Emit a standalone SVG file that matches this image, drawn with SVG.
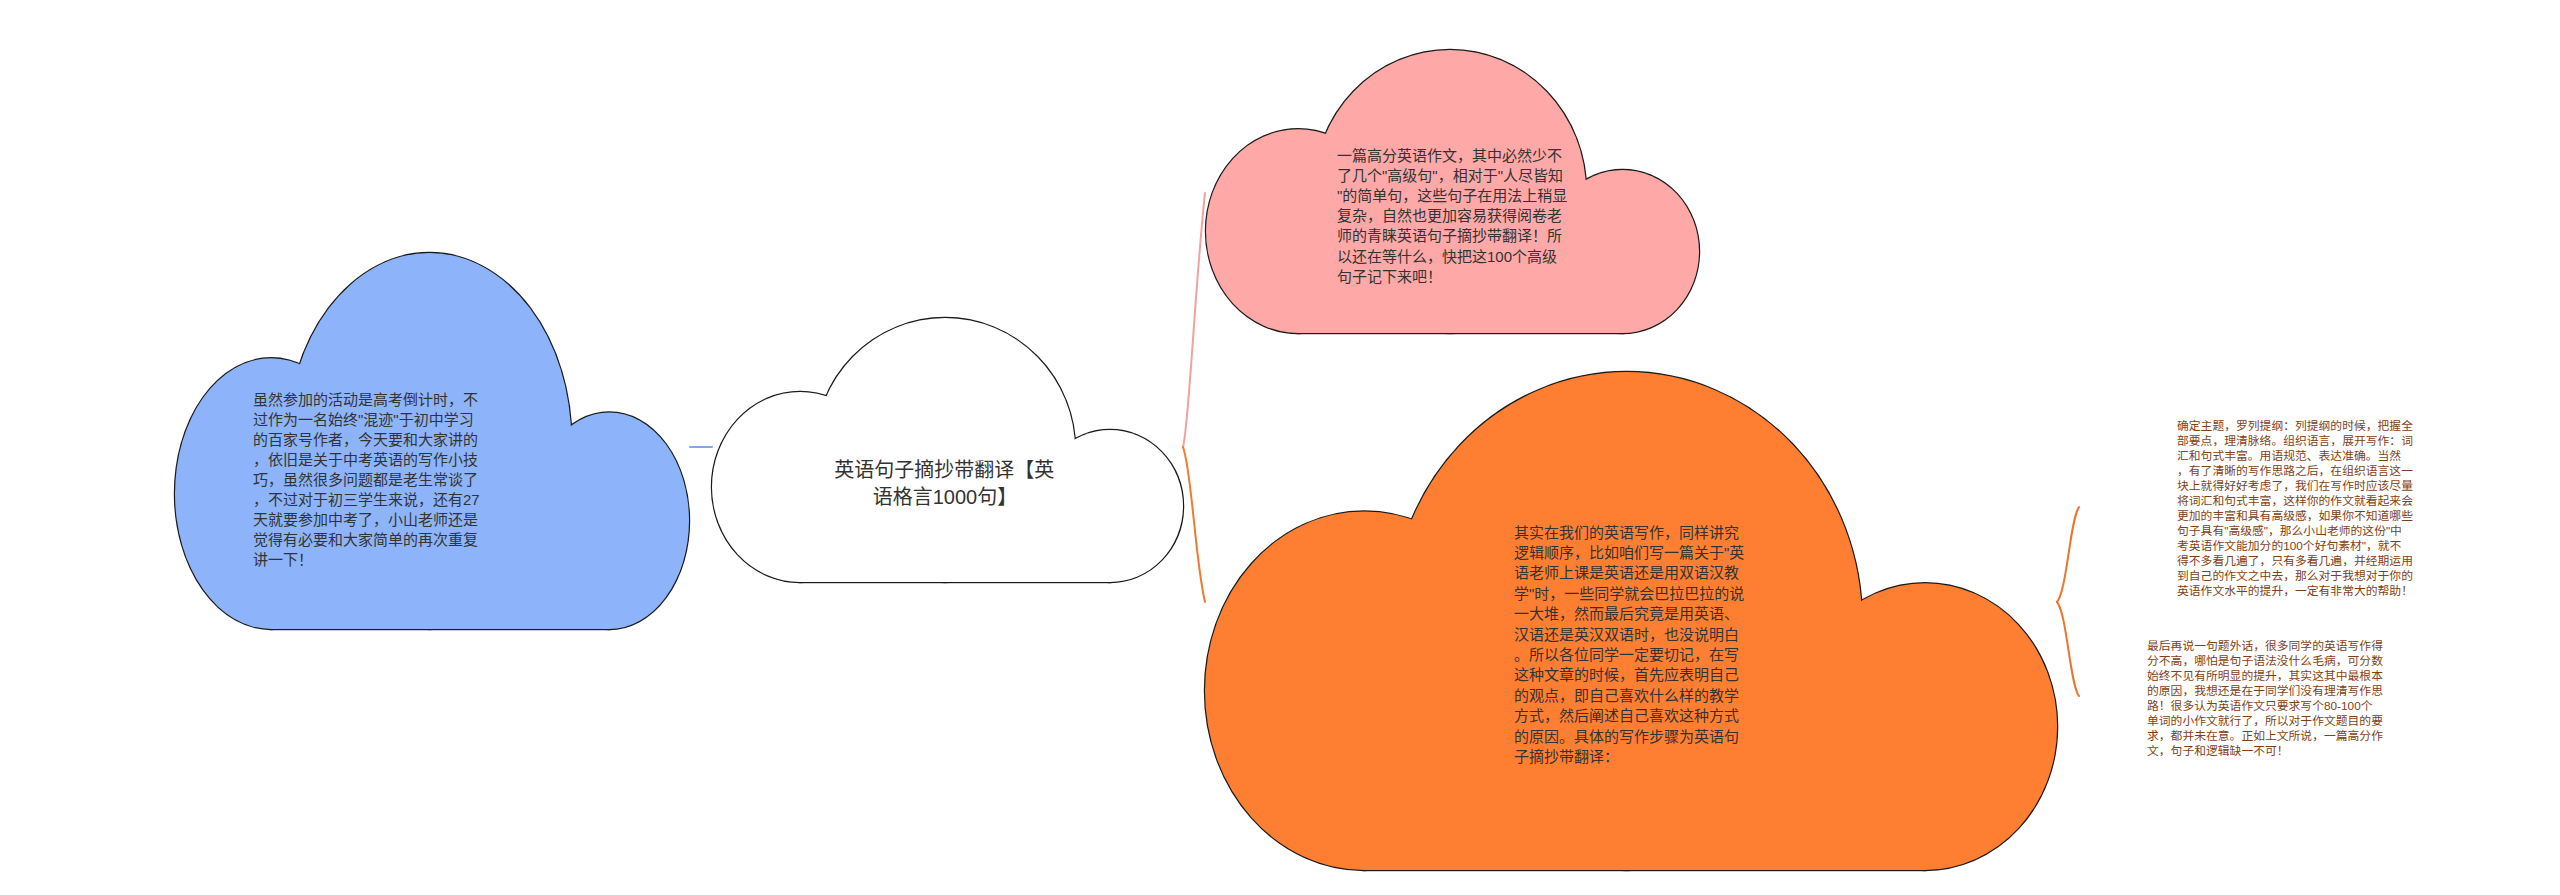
<svg xmlns="http://www.w3.org/2000/svg" width="2560" height="895" viewBox="0 0 2560 895">
<style>
  .ol { stroke: #1a1a1a; stroke-width: 2.4; }
  .fl { stroke: none; }
  .blue { fill: #8db4fa; }
  .pink { fill: #fea9a7; }
  .orange { fill: #ff7f32; }
  .white { fill: #ffffff; }
  .t { font-family: "Liberation Sans", "Noto Sans CJK SC", sans-serif; fill: #333333; }
  .t15 { font-size: 15px; }
  .t20 { font-size: 20px; }
  .ts { font-size: 11.8px; fill: #7f3f17; }
  .conn { fill: none; stroke-width: 2; stroke-linecap: round; }
</style>
<rect width="2560" height="895" fill="#ffffff"/>

<g id="connectors">
  <path class="conn" stroke="#82a8ec" d="M690,447 L712,447"/>
  <path class="conn" stroke="#f0a2a1" stroke-width="2.2" d="M1183,447 C1189,425 1195,285 1205,193"/>
  <path class="conn" stroke="#f07a2e" stroke-width="2.2" d="M1183,447 C1192,472 1195,560 1205,602"/>
  <path class="conn" stroke="#e8762e" stroke-width="1.6" d="M2057,602 C2067,590 2070,520 2079,507"/>
  <path class="conn" stroke="#e8762e" stroke-width="1.6" d="M2057,602 C2067,614 2070,685 2079,696"/>
</g>

<g id="node-blue">
  <g class="ol blue">
    <ellipse cx="271.1" cy="493.6" rx="96.1" ry="135.4"/>
    <ellipse cx="429.4" cy="441" rx="141.9" ry="188"/>
    <ellipse cx="609.3" cy="520.7" rx="79.7" ry="108.3"/>
    <rect x="271" y="479" width="338" height="150"/>
  </g>
  <g class="fl blue">
    <ellipse cx="271.1" cy="493.6" rx="96.1" ry="135.4"/>
    <ellipse cx="429.4" cy="441" rx="141.9" ry="188"/>
    <ellipse cx="609.3" cy="520.7" rx="79.7" ry="108.3"/>
    <rect x="271" y="479" width="338" height="150"/>
  </g>
  <text class="t t15" x="253" y="405">
    <tspan x="253" dy="0">虽然参加的活动是高考倒计时，不</tspan>
    <tspan x="253" dy="20">过作为一名始终"混迹"于初中学习</tspan>
    <tspan x="253" dy="20">的百家号作者，今天要和大家讲的</tspan>
    <tspan x="253" dy="20">，依旧是关于中考英语的写作小技</tspan>
    <tspan x="253" dy="20">巧，虽然很多问题都是老生常谈了</tspan>
    <tspan x="253" dy="20">，不过对于初三学生来说，还有27</tspan>
    <tspan x="253" dy="20">天就要参加中考了，小山老师还是</tspan>
    <tspan x="253" dy="20">觉得有必要和大家简单的再次重复</tspan>
    <tspan x="253" dy="20">讲一下！</tspan>
  </text>
</g>

<g id="node-center">
  <g class="ol white">
    <ellipse cx="800.1" cy="487" rx="88.1" ry="95"/>
    <ellipse cx="945.1" cy="450" rx="130" ry="132"/>
    <ellipse cx="1110" cy="506" rx="73" ry="76"/>
    <rect x="800" y="476" width="310" height="106"/>
  </g>
  <g class="fl white">
    <ellipse cx="800.1" cy="487" rx="88.1" ry="95"/>
    <ellipse cx="945.1" cy="450" rx="130" ry="132"/>
    <ellipse cx="1110" cy="506" rx="73" ry="76"/>
    <rect x="800" y="476" width="310" height="106"/>
  </g>
  <text class="t t20" text-anchor="middle">
    <tspan x="947" y="477">英语句子摘抄带翻译【英</tspan>
    <tspan x="945" y="504">语格言1000句】</tspan>
  </text>
</g>

<g id="node-pink">
  <g class="ol pink">
    <ellipse cx="1298.2" cy="231.1" rx="92.2" ry="101.9"/>
    <ellipse cx="1450" cy="191.5" rx="136.1" ry="141.5"/>
    <ellipse cx="1622.6" cy="251.5" rx="76.4" ry="81.5"/>
    <rect x="1298" y="220" width="325" height="113"/>
  </g>
  <g class="fl pink">
    <ellipse cx="1298.2" cy="231.1" rx="92.2" ry="101.9"/>
    <ellipse cx="1450" cy="191.5" rx="136.1" ry="141.5"/>
    <ellipse cx="1622.6" cy="251.5" rx="76.4" ry="81.5"/>
    <rect x="1298" y="220" width="325" height="113"/>
  </g>
  <text class="t t15" x="1337" y="160.5">
    <tspan x="1337" dy="0">一篇高分英语作文，其中必然少不</tspan>
    <tspan x="1337" dy="20.2">了几个"高级句"，相对于"人尽皆知</tspan>
    <tspan x="1337" dy="20.2">"的简单句，这些句子在用法上稍显</tspan>
    <tspan x="1337" dy="20.2">复杂，自然也更加容易获得阅卷老</tspan>
    <tspan x="1337" dy="20.2">师的青睐英语句子摘抄带翻译！所</tspan>
    <tspan x="1337" dy="20.2">以还在等什么，快把这100个高级</tspan>
    <tspan x="1337" dy="20.2">句子记下来吧！</tspan>
  </text>
</g>

<g id="node-orange">
  <g class="ol orange">
    <ellipse cx="1364.3" cy="690.7" rx="159.3" ry="179.3"/>
    <ellipse cx="1626.7" cy="621" rx="235.2" ry="249"/>
    <ellipse cx="1925" cy="726.6" rx="132.1" ry="143.4"/>
    <rect x="1364" y="671" width="561" height="199"/>
  </g>
  <g class="fl orange">
    <ellipse cx="1364.3" cy="690.7" rx="159.3" ry="179.3"/>
    <ellipse cx="1626.7" cy="621" rx="235.2" ry="249"/>
    <ellipse cx="1925" cy="726.6" rx="132.1" ry="143.4"/>
    <rect x="1364" y="671" width="561" height="199"/>
  </g>
  <text class="t t15" x="1514" y="537.5">
    <tspan x="1514" dy="0">其实在我们的英语写作，同样讲究</tspan>
    <tspan x="1514" dy="20.4">逻辑顺序，比如咱们写一篇关于"英</tspan>
    <tspan x="1514" dy="20.4">语老师上课是英语还是用双语汉教</tspan>
    <tspan x="1514" dy="20.4">学"时，一些同学就会巴拉巴拉的说</tspan>
    <tspan x="1514" dy="20.4">一大堆，然而最后究竟是用英语、</tspan>
    <tspan x="1514" dy="20.4">汉语还是英汉双语时，也没说明白</tspan>
    <tspan x="1514" dy="20.4">。所以各位同学一定要切记，在写</tspan>
    <tspan x="1514" dy="20.4">这种文章的时候，首先应表明自己</tspan>
    <tspan x="1514" dy="20.4">的观点，即自己喜欢什么样的教学</tspan>
    <tspan x="1514" dy="20.4">方式，然后阐述自己喜欢这种方式</tspan>
    <tspan x="1514" dy="20.4">的原因。具体的写作步骤为英语句</tspan>
    <tspan x="1514" dy="20.4">子摘抄带翻译：</tspan>
  </text>
</g>

<g id="node-right-1">
  <text class="t ts" x="2177" y="429.5">
    <tspan x="2177" dy="0">确定主题，罗列提纲：列提纲的时候，把握全</tspan>
    <tspan x="2177" dy="15">部要点，理清脉络。组织语言，展开写作：词</tspan>
    <tspan x="2177" dy="15">汇和句式丰富。用语规范、表达准确。当然</tspan>
    <tspan x="2177" dy="15">，有了清晰的写作思路之后，在组织语言这一</tspan>
    <tspan x="2177" dy="15">块上就得好好考虑了，我们在写作时应该尽量</tspan>
    <tspan x="2177" dy="15">将词汇和句式丰富，这样你的作文就看起来会</tspan>
    <tspan x="2177" dy="15">更加的丰富和具有高级感，如果你不知道哪些</tspan>
    <tspan x="2177" dy="15">句子具有"高级感"，那么小山老师的这份"中</tspan>
    <tspan x="2177" dy="15">考英语作文能加分的100个好句素材"，就不</tspan>
    <tspan x="2177" dy="15">得不多看几遍了，只有多看几遍，并经期运用</tspan>
    <tspan x="2177" dy="15">到自己的作文之中去，那么对于我想对于你的</tspan>
    <tspan x="2177" dy="15">英语作文水平的提升，一定有非常大的帮助！</tspan>
  </text>
</g>

<g id="node-right-2">
  <text class="t ts" x="2147" y="649.5">
    <tspan x="2147" dy="0">最后再说一句题外话，很多同学的英语写作得</tspan>
    <tspan x="2147" dy="15">分不高，哪怕是句子语法没什么毛病，可分数</tspan>
    <tspan x="2147" dy="15">始终不见有所明显的提升，其实这其中最根本</tspan>
    <tspan x="2147" dy="15">的原因，我想还是在于同学们没有理清写作思</tspan>
    <tspan x="2147" dy="15">路！很多认为英语作文只要求写个80-100个</tspan>
    <tspan x="2147" dy="15">单词的小作文就行了，所以对于作文题目的要</tspan>
    <tspan x="2147" dy="15">求，都并未在意。正如上文所说，一篇高分作</tspan>
    <tspan x="2147" dy="15">文，句子和逻辑缺一不可！</tspan>
  </text>
</g>
</svg>
